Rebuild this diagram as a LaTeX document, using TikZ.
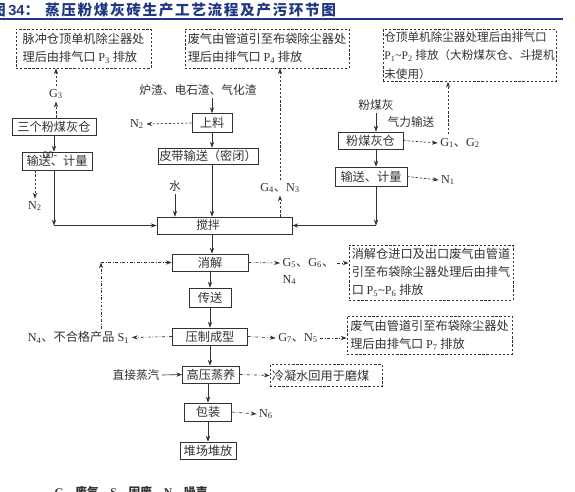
\documentclass[tikz,border=0pt]{standalone}
\usepackage{fontspec}
\setmainfont{Liberation Serif}
\setsansfont{Liberation Sans}
\newfontfamily\cjk{Noto Sans CJK SC}
\newfontfamily\cjktitle[LetterSpace=11]{Noto Sans CJK SC}
\usetikzlibrary{arrows.meta}

\definecolor{titleblue}{RGB}{32,56,130}
\definecolor{ink}{RGB}{50,50,50}
\newcommand{\sub}[1]{\textsubscript{#1}}
\newcommand{\zh}[1]{{\cjk #1}}
\newcommand{\lat}[1]{{\rmfamily #1}}

\begin{document}
\begin{tikzpicture}[
    x=0.03cm, y=-0.03cm,
    font=\fontsize{10.4pt}{12.8pt}\selectfont, text=ink,
    box/.style={rectangle, draw=ink, line width=0.6pt, inner sep=1pt, font=\cjk\fontsize{10.4pt}{12.8pt}\selectfont},
    dashbox/.style={rectangle, draw=ink, line width=0.6pt, dash pattern=on 2pt off 1.5pt, inner xsep=1pt, inner ysep=2pt, align=left, font=\cjk\fontsize{10.4pt}{15.5pt}\selectfont},
    lbl/.style={inner sep=2pt},
    arrow/.style={-{Stealth[length=5pt,width=3.6pt]}, draw=ink, line width=0.55pt},
    dasharrow/.style={arrow, dash pattern=on 2pt off 1.5pt},
    dotarrow/.style={arrow, dash pattern=on 2.5pt off 1.5pt on 0.6pt off 1.5pt}
]
\useasboundingbox (0,0) rectangle (575,491);
\fill[white] (0,0) rectangle (575,491);

% ── Title ──
\node[anchor=base west, inner sep=0, text=titleblue, font=\fontsize{12.5pt}{15pt}\selectfont\bfseries] (title) at (-9,15.5)
  {{\cjktitle 图}\,{\sffamily 34}{\cjktitle ：\kern5pt 蒸压粉煤灰砖生产工艺流程及产污环节图}};
\draw[titleblue, line width=1.2pt] (0,19) -- (563,19);

% ── Exhaust outlets (dashed) ──
\node[dashbox, minimum width=4.05cm, minimum height=1.17cm] (ventPthree) at (83.5,48.5) {脉冲仓顶单机除尘器处\\理后由排气口 \lat{P\sub{3}} 排放};
\node[dashbox, minimum width=4.92cm, minimum height=1.17cm] (ventPfour) at (267,48.5) {废气由管道引至布袋除尘器处\\理后由排气口 \lat{P\sub{4}} 排放};
\node[dashbox, minimum width=5.19cm, minimum height=1.47cm, font=\cjk\fontsize{9.9pt}{15.5pt}\selectfont] (ventPone) at (469.5,55.5) {仓顶单机除尘器处理后由排气口\\\lat{P\sub{1}\textasciitilde P\sub{2}} 排放（大粉煤灰仓、斗提机\\未使用）};
\node[dashbox, minimum width=4.92cm, minimum height=1.65cm] (ventPfive) at (431,272.5) {消解仓进口及出口废气由管道\\引至布袋除尘器处理后由排气\\口 \lat{P\sub{5}\textasciitilde P\sub{6}} 排放};
\node[dashbox, minimum width=4.95cm, minimum height=1.14cm] (ventPseven) at (429.5,335) {废气由管道引至布袋除尘器处\\理后由排气口 \lat{P\sub{7}} 排放};
\node[dashbox, minimum width=3.36cm, minimum height=0.66cm, text width=3.25cm] (condensate) at (326,375.5) {冷凝水回用于磨煤};

% ── Left feed line ──
\node[box, minimum width=2.52cm, minimum height=0.51cm] (silos) at (54,126.5) {三个粉煤灰仓};
\node[box, minimum width=2.1cm, minimum height=0.54cm] (meterL) at (57,161) {输送、计量};
\node[inner sep=0, font=\rmfamily\fontsize{9pt}{10pt}\selectfont] (stray) at (50,155) {00-};

% ── Slag feed line ──
\node[box, minimum width=1.2cm, minimum height=0.57cm] (feed) at (212,123) {上料};
\node[box, minimum width=3.0cm, minimum height=0.48cm] (belt) at (208,156) {皮带输送（密闭）};

% ── Fly ash feed line ──
\node[box, minimum width=1.95cm, minimum height=0.51cm] (flysilo) at (370.5,140.5) {粉煤灰仓};
\node[box, minimum width=2.16cm, minimum height=0.57cm] (meterR) at (371,176.5) {输送、计量};

% ── Main process column ──
\node[box, minimum width=4.05cm, minimum height=0.51cm] (mix) at (224.5,225.5) {};
\node[inner sep=0, font=\cjk] (mixtext) at (208,225.5) {搅拌};
\node[box, minimum width=2.28cm, minimum height=0.51cm] (digest) at (210,262.5) {消解};
\node[box, minimum width=1.26cm, minimum height=0.57cm] (convey) at (210,297.5) {传送};
\node[box, minimum width=2.25cm, minimum height=0.51cm] (press) at (210,336.5) {压制成型};
\node[box, minimum width=1.71cm, minimum height=0.51cm] (autoclave) at (211,374.5) {高压蒸养};
\node[box, minimum width=1.41cm, minimum height=0.54cm] (pack) at (208,412) {包装};
\node[box, minimum width=1.68cm, minimum height=0.51cm] (yard) at (208,450.5) {堆场堆放};

% ── Labels ──
\node[lbl] (gthree) at (56,94) {G\sub{3}};
\node[lbl] (ntwoA) at (137,124) {N\sub{2}};
\node[lbl] (ntwoB) at (35,206) {N\sub{2}};
\node[lbl, font=\cjk] (slag) at (198,90) {炉渣、电石渣、气化渣};
\node[lbl, font=\cjk] (water) at (175,186) {水};
\node[lbl] (gfour) at (280,188) {G\sub{4}\zh{、}N\sub{3}};
\node[lbl, font=\cjk] (fly) at (376,105) {粉煤灰};
\node[lbl, font=\cjk] (pneumatic) at (411,122) {气力输送};
\node[lbl] (gone) at (460,143) {G\sub{1}\zh{、}G\sub{2}};
\node[lbl] (none) at (448,180) {N\sub{1}};
\node[lbl, anchor=west] (gfive) at (280,263) {G\sub{5}\zh{、}G\sub{6}\zh{、}};
\node[lbl, anchor=west] (nfour) at (280,280) {N\sub{4}};
\node[lbl] (gseven) at (298,338) {G\sub{7}\zh{、}N\sub{5}};
\node[lbl] (reject) at (78.5,337.5) {N\sub{4}\zh{、不合格产品} S\sub{1}};
\node[lbl, font=\cjk] (steam) at (136,375) {直接蒸汽};
\node[lbl] (nsix) at (266,414) {N\sub{6}};
\node[lbl, font=\bfseries] (legend) at (131,492) {G—\zh{废气，}S—\zh{固废，}N—\zh{噪声}};

% ── Knee points ──
\coordinate (kneeL) at (silos |- mix.west);
\coordinate (kneeR) at (fly |- mix.east);
\coordinate (kneeLoop) at (101,262.5);
\coordinate (gonetop) at (448,134);

% ── Emissions (dashed) ──
\draw[dasharrow] (silos.north -| gthree) -- (gthree.south);
\draw[dasharrow] (gthree.north) -- (gthree.north |- ventPthree.south);
\draw[dasharrow] (feed.west) -- (ntwoA.east);
\draw[dasharrow] (ntwoB |- meterL.south) -- (ntwoB.north);
\draw[dasharrow] (gfour |- mix.north) -- (gfour.south);
\draw[dasharrow] (gfour.north) -- (gfour.north |- ventPfour.south);
\draw[dasharrow] (flysilo.east) -- (gone.west);
\draw[dasharrow] (gonetop) -- (gonetop |- ventPone.south);
\draw[dasharrow] (meterR.east) -- (none.west);

% ── Material flow ──
\draw[arrow] (silos.south) -- (silos.south |- meterL.north);
\draw[arrow] (silos |- meterL.south) -- (kneeL);
\draw[arrow] (kneeL) -- (mix.west);
\draw[arrow] (feed |- slag.south) -- (feed.north);
\draw[arrow] (feed.south) -- (feed |- belt.north);
\draw[arrow] (feed |- belt.south) -- (feed |- mix.north);
\draw[arrow] (water.south) -- (water |- mix.north);
\draw[arrow] (fly.south) -- (fly |- flysilo.north);
\draw[arrow] (fly |- flysilo.south) -- (fly |- meterR.north);
\draw[arrow] (fly |- meterR.south) -- (kneeR);
\draw[arrow] (kneeR) -- (mix.east);
\draw[arrow] (feed |- mix.south) -- (feed |- digest.north);
\draw[arrow] (digest.south) -- (convey.north);
\draw[arrow] (convey.south) -- (convey.south |- press.north);
\draw[arrow] (press.south) -- (press.south |- autoclave.north);
\draw[arrow] (autoclave.south -| pack) -- (pack.north);
\draw[arrow] (pack.south) -- (yard.north);
\draw[arrow] (steam.east) -- (autoclave.west);

% ── Emissions and return (dash-dot) ──
\draw[dotarrow] (digest.east) -- (gfive.west);
\draw[dotarrow] (gfive.east) -- (gfive.east -| ventPfive.west);
\draw[dotarrow] (press.west) -- (reject.east);
\draw[dotarrow] (kneeLoop |- reject.north) -- (kneeLoop);
\draw[dotarrow] (kneeLoop) -- (digest.west);
\draw[dotarrow] (press.east) -- (gseven.west);
\draw[dotarrow] (gseven.east) -- (gseven.east -| ventPseven.west);
\draw[dotarrow] (autoclave.east) -- (condensate.west);
\draw[dotarrow] (pack.east) -- (nsix.west);

\end{tikzpicture}
\end{document}
